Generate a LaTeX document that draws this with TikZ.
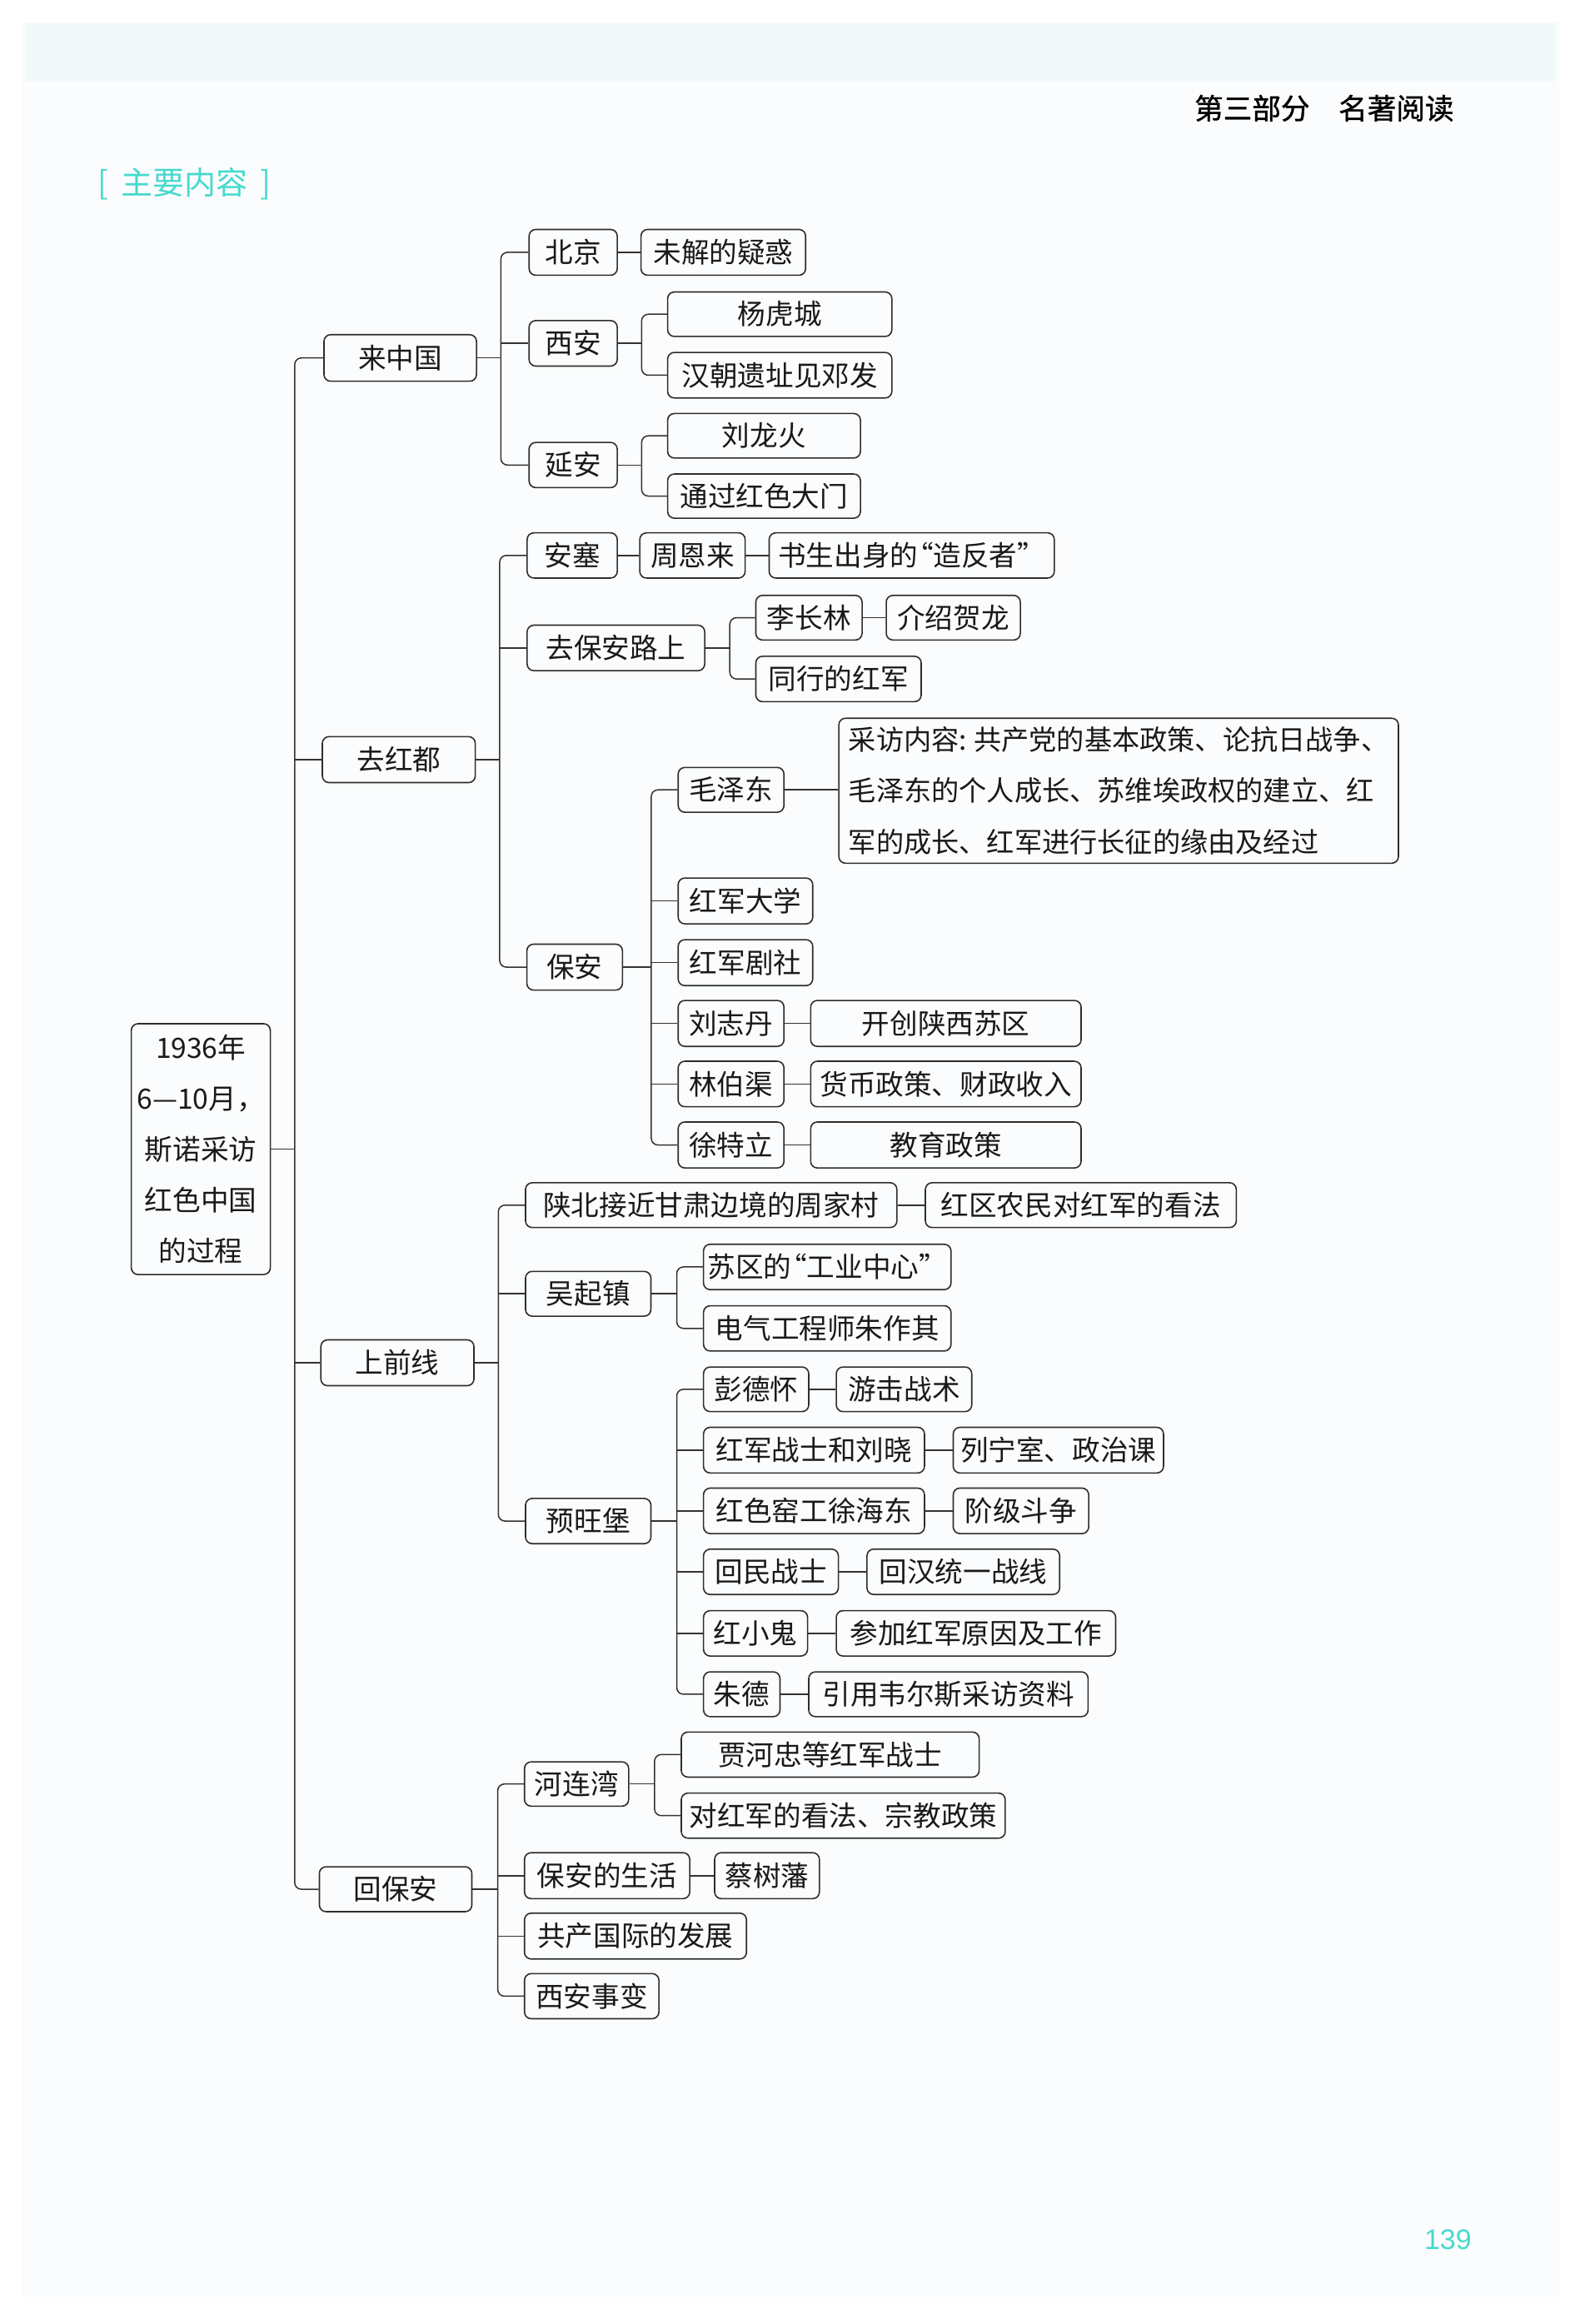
\documentclass[tikz,border=0pt]{standalone}
\usepackage{fontspec}
\setmainfont{Noto Sans CJK SC}
\newfontfamily\hdfont[FakeBold=1]{Noto Sans CJK SC}
\newfontfamily\pnfont{Liberation Sans}
\definecolor{boxc}{RGB}{45,45,45}
\definecolor{linec}{RGB}{50,50,50}
\definecolor{txtc}{RGB}{25,25,25}
\definecolor{cyanc}{RGB}{70,218,205}
\definecolor{pagec}{RGB}{251,252,253}
\definecolor{bandc}{RGB}{243,249,251}
\newcommand\bx[7][box]{%
  \pgfmathsetmacro\bxw{(#5-#3)*0.88965}%
  \pgfmathsetmacro\bxh{(#6-#4)*0.88965}%
  \node[#1, minimum width=\bxw pt, minimum height=\bxh pt] (#2) at ({(#3+#5)/2},{(#4+#6)/2}) {#7};}
\newcommand\oq{\hspace{-0.45em}“}
\newcommand\cq{”\hspace{-0.45em}}
\begin{document}
\begin{tikzpicture}[x=0.88965pt, y=-0.88965pt,
  box/.style={draw=boxc, line width=0.8pt, rounded corners=4pt, inner sep=0pt, text=txtc,
    font=\fontsize{16.8}{20}\selectfont, text height=13.9pt, text depth=1.2pt},
  mbox/.style={draw=boxc, line width=0.8pt, rounded corners=4pt, inner sep=0pt, text=txtc},
  conn/.style={draw=linec, line width=0.75pt},
  rcn/.style={rounded corners=4pt}]
\useasboundingbox (0,0) rectangle (1069,1568);
\fill[white] (0,0) rectangle (1069,1568);
\fill[pagec] (15,15) rectangle (1052,1550);
\fill[bandc] (17,15) rectangle (1050,55);

% header, tag, page number
\node[font=\hdfont\fontsize{17.3}{20}\selectfont, text=black] (hdr) at (893.5,73) {第三部分\hspace{1em}名著阅读};
\node[font=\fontsize{19}{22}\selectfont, text=cyanc] (tag) at (124.5,124) {[\hspace{0.4em}主要内容\hspace{0.4em}]};
\node[font=\pnfont\fontsize{17}{19}\selectfont, text=cyanc] (pg) at (977,1511) {139};

% root
\bx[mbox,align=center,font=\fontsize{16.8}{30.4}\selectfont]{root}{88.6}{690.7}{182.4}{859.9}{1936年\\6—10月，\\斯诺采访\\红色中国\\的过程}

% level 1
\bx{La}{218.6}{225.8}{321.5}{257.2}{来中国}
\bx{Lb}{217.5}{497}{320.7}{528}{去红都}
\bx{Lc}{216.5}{904}{319.8}{934.9}{上前线}
\bx{Ld}{215.5}{1259.5}{318.4}{1289.8}{回保安}

% 来中国
\bx{bj}{357}{154.8}{416.5}{185.7}{北京}
\bx{wj}{432.5}{154.8}{543.6}{185.7}{未解的疑惑}
\bx{xa}{357}{216.3}{416.5}{247}{西安}
\bx{yhc}{450.5}{197}{601.8}{227}{杨虎城}
\bx{hc}{450.5}{237.8}{601.8}{268.5}{汉朝遗址见邓发}
\bx{ya}{357}{298.5}{416.5}{329}{延安}
\bx{llh}{450.5}{279}{580.6}{309}{刘龙火}
\bx{tg}{450.5}{319.8}{580.6}{349.6}{通过红色大门}

% 去红都
\bx{as}{355.7}{359.5}{416.5}{390}{安塞}
\bx{zel}{431.7}{359.5}{502.8}{390}{周恩来}
\bx{ss}{519}{359.5}{711.4}{390}{书生出身的\oq 造反者\cq}
\bx{qb}{355.7}{421.8}{475.5}{452.5}{去保安路上}
\bx{lcl}{510}{401.7}{581.7}{431.8}{李长林}
\bx{jshl}{598}{401.7}{688.5}{431.8}{介绍贺龙}
\bx{txhj}{510}{442.8}{621.6}{473.4}{同行的红军}
\bx{ba}{355.5}{637}{420}{668}{保安}
\bx{mzd}{457.6}{517.8}{529}{548}{毛泽东}
\bx[mbox,align=left,font=\fontsize{16.6}{30.7}\selectfont]{cf}{566}{484.6}{943.6}{582.4}{采访内容:\hspace{0.25em}共产党的基本政策、论抗日战争、\\毛泽东的个人成长、苏维埃政权的建立、红\\军的成长、红军进行长征的缘由及经过}
\bx{hjdx}{457.6}{592.4}{548.4}{623.3}{红军大学}
\bx{hjjs}{457.6}{634}{548.4}{665}{红军剧社}
\bx{lzd}{457.6}{675}{529}{706}{刘志丹}
\bx{kc}{547}{675}{729.5}{706}{开创陕西苏区}
\bx{lbq}{457.6}{716}{529}{746.7}{林伯渠}
\bx{hb}{547}{716}{729.5}{746.7}{货币政策、财政收入}
\bx{xtl}{457.6}{757}{529}{788}{徐特立}
\bx{jy}{547}{757}{729.5}{788}{教育政策}

% 上前线
\bx{sb}{354.6}{798}{605.2}{828.2}{陕北接近甘肃边境的周家村}
\bx{hq}{624.4}{798}{834.2}{828.2}{红区农民对红军的看法}
\bx{wqz}{354.6}{857.8}{439.2}{888}{吴起镇}
\bx{sq}{474.7}{839.5}{641.7}{870.1}{苏区的\oq 工业中心\cq}
\bx{dq}{474.7}{881}{641.7}{911.5}{电气工程师朱作其}
\bx{ywb}{354.6}{1011}{439.2}{1041.5}{预旺堡}
\bx{pdh}{474.7}{922.3}{545.7}{952.4}{彭德怀}
\bx{yj}{564.3}{922.3}{655.7}{952.4}{游击战术}
\bx{hjzs}{474.7}{963}{623.8}{993.8}{红军战士和刘晓}
\bx{lns}{643.2}{963}{785.1}{993.8}{列宁室、政治课}
\bx{hsyg}{474.7}{1004}{623.8}{1034.7}{红色窑工徐海东}
\bx{jjdz}{643.2}{1004}{734.6}{1034.7}{阶级斗争}
\bx{hmzs}{474.7}{1045.2}{565.7}{1075.8}{回民战士}
\bx{hhtz}{585}{1045.2}{715}{1075.8}{回汉统一战线}
\bx{hxg}{474.7}{1086.7}{544.9}{1117.3}{红小鬼}
\bx{cj}{564.3}{1086.7}{752.8}{1117.3}{参加红军原因及工作}
\bx{zd}{474.7}{1128}{526.3}{1158.2}{朱德}
\bx{yy}{545.7}{1128}{734.2}{1158.2}{引用韦尔斯采访资料}

% 回保安
\bx{hlw}{353.9}{1188.7}{424.2}{1218.6}{河连湾}
\bx{jhz}{459.7}{1168.6}{660.7}{1199}{贾河忠等红军战士}
\bx{dhj}{459.7}{1209.8}{678.3}{1240.2}{对红军的看法、宗教政策}
\bx{basu}{353.9}{1250}{465.4}{1281}{保安的生活}
\bx{csf}{482.2}{1250}{552.9}{1281}{蔡树藩}
\bx{gcgj}{353.9}{1290.8}{503.7}{1321.7}{共产国际的发展}
\bx{xasb}{353.9}{1331.6}{444.6}{1362}{西安事变}

% ---------- connectors ----------
% root
\draw[conn] (root.east) -- ++(16,0) coordinate (rT);
\draw[conn,rcn] (rT) |- (La.west);
\draw[conn] (rT |- Lb.west) -- (Lb.west);
\draw[conn] (rT |- Lc.west) -- (Lc.west);
\draw[conn,rcn] (rT) |- (Ld.west);

% 来中国
\draw[conn] (La.east) -- ++(16,0) coordinate (aT);
\draw[conn,rcn] (aT) |- (bj.west);
\draw[conn] (aT |- xa.west) -- (xa.west);
\draw[conn,rcn] (aT) |- (ya.west);
\draw[conn] (bj.east) -- (wj.west);
\draw[conn] (xa.east) -- ++(16,0) coordinate (xaT);
\draw[conn,rcn] (xaT) |- (yhc.west);
\draw[conn,rcn] (xaT) |- (hc.west);
\draw[conn] (ya.east) -- ++(16,0) coordinate (yaT);
\draw[conn,rcn] (yaT) |- (llh.west);
\draw[conn,rcn] (yaT) |- (tg.west);

% 去红都
\draw[conn] (Lb.east) -- ++(16,0) coordinate (bT);
\draw[conn,rcn] (bT) |- (as.west);
\draw[conn] (bT |- qb.west) -- (qb.west);
\draw[conn,rcn] (bT) |- (ba.west);
\draw[conn] (as.east) -- (zel.west);
\draw[conn] (zel.east) -- (ss.west);
\draw[conn] (qb.east) -- ++(16.5,0) coordinate (qbT);
\draw[conn,rcn] (qbT) |- (lcl.west);
\draw[conn,rcn] (qbT) |- (txhj.west);
\draw[conn] (lcl.east) -- (jshl.west);
\draw[conn] (ba.east) -- ++(19,0) coordinate (baT);
\draw[conn,rcn] (baT) |- (mzd.west);
\draw[conn] (baT |- hjdx.west) -- (hjdx.west);
\draw[conn] (baT |- hjjs.west) -- (hjjs.west);
\draw[conn] (baT |- lzd.west) -- (lzd.west);
\draw[conn] (baT |- lbq.west) -- (lbq.west);
\draw[conn,rcn] (baT) |- (xtl.west);
\draw[conn] (mzd.east) -- (mzd.east -| cf.west);
\draw[conn] (lzd.east) -- (kc.west);
\draw[conn] (lbq.east) -- (hb.west);
\draw[conn] (xtl.east) -- (jy.west);

% 上前线
\draw[conn] (Lc.east) -- ++(16,0) coordinate (cT);
\draw[conn,rcn] (cT) |- (sb.west);
\draw[conn] (cT |- wqz.west) -- (wqz.west);
\draw[conn,rcn] (cT) |- (ywb.west);
\draw[conn] (sb.east) -- (hq.west);
\draw[conn] (wqz.east) -- ++(17,0) coordinate (wqT);
\draw[conn,rcn] (wqT) |- (sq.west);
\draw[conn,rcn] (wqT) |- (dq.west);
\draw[conn] (ywb.east) -- ++(17,0) coordinate (ywT);
\draw[conn,rcn] (ywT) |- (pdh.west);
\draw[conn] (ywT |- hjzs.west) -- (hjzs.west);
\draw[conn] (ywT |- hsyg.west) -- (hsyg.west);
\draw[conn] (ywT |- hmzs.west) -- (hmzs.west);
\draw[conn] (ywT |- hxg.west) -- (hxg.west);
\draw[conn,rcn] (ywT) |- (zd.west);
\draw[conn] (pdh.east) -- (yj.west);
\draw[conn] (hjzs.east) -- (lns.west);
\draw[conn] (hsyg.east) -- (jjdz.west);
\draw[conn] (hmzs.east) -- (hhtz.west);
\draw[conn] (hxg.east) -- (cj.west);
\draw[conn] (zd.east) -- (yy.west);

% 回保安
\draw[conn] (Ld.east) -- ++(17,0) coordinate (dT);
\draw[conn,rcn] (dT) |- (hlw.west);
\draw[conn] (dT |- basu.west) -- (basu.west);
\draw[conn] (dT |- gcgj.west) -- (gcgj.west);
\draw[conn,rcn] (dT) |- (xasb.west);
\draw[conn] (hlw.east) -- ++(17,0) coordinate (hlT);
\draw[conn,rcn] (hlT) |- (jhz.west);
\draw[conn,rcn] (hlT) |- (dhj.west);
\draw[conn] (basu.east) -- (csf.west);
\end{tikzpicture}
\end{document}
